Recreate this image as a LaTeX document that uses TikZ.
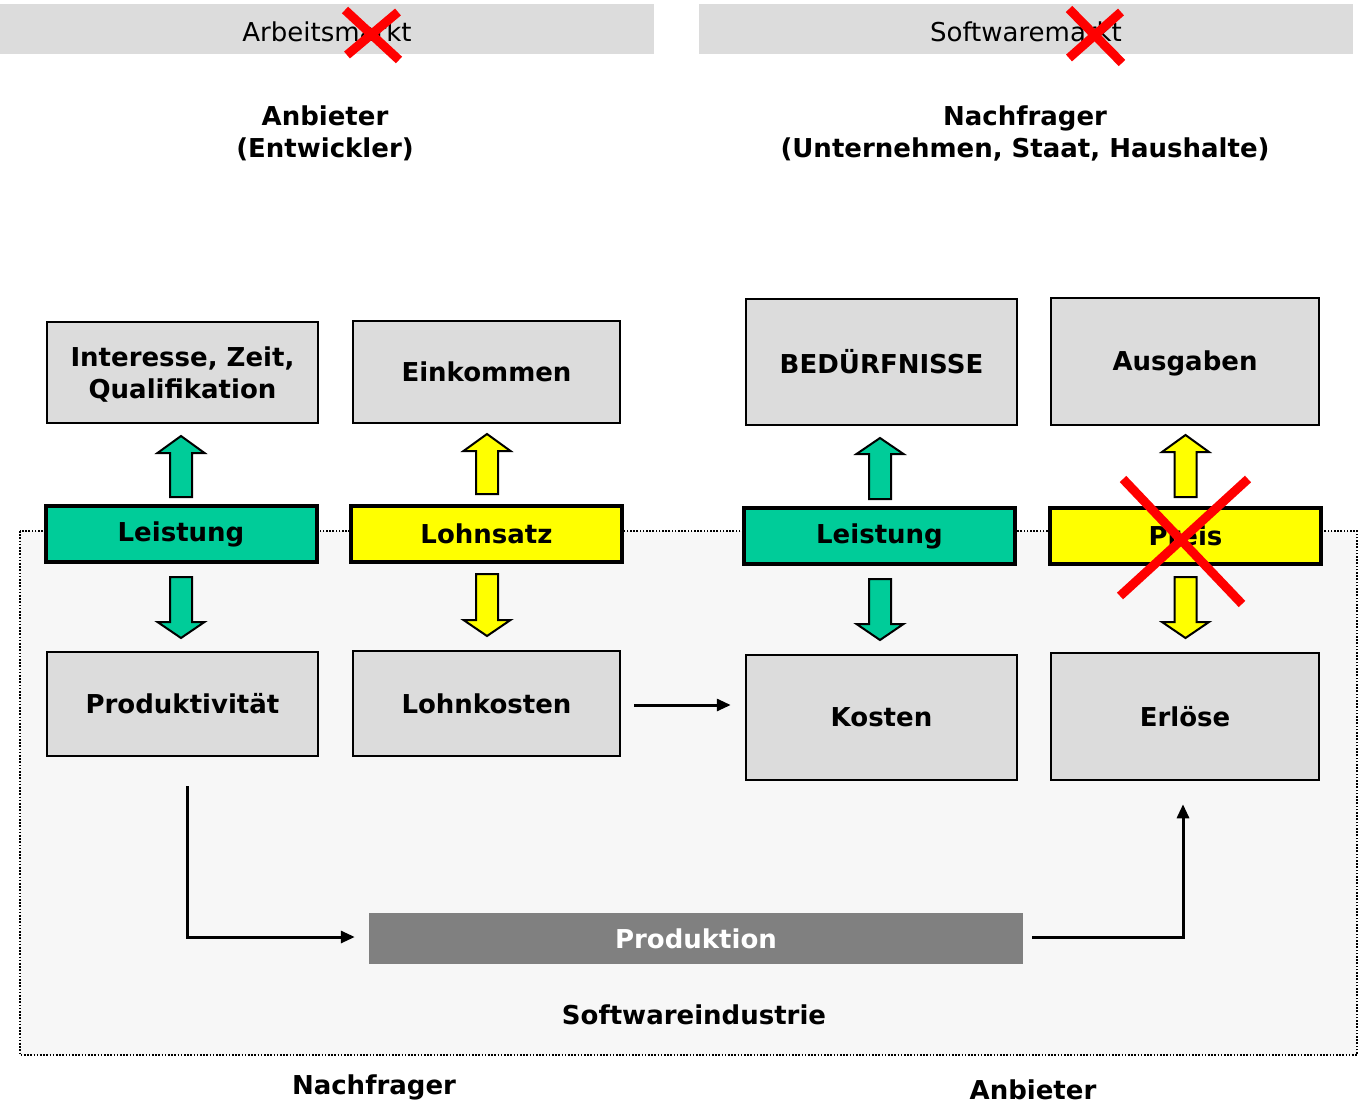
\documentclass[tikz,border=0pt]{standalone}
\usepackage{fontspec}
\setmainfont{DejaVu Sans}
\usetikzlibrary{arrows.meta,calc}
\definecolor{boxgray}{HTML}{DCDCDC}
\definecolor{bggray}{HTML}{F7F7F7}
\definecolor{grn}{HTML}{00CC99}
\definecolor{ylw}{HTML}{FFFF00}
\definecolor{prodgray}{HTML}{808080}
\newcommand\blockarrow[5]{%
  \draw[fill=#5, line width=2pt, line join=miter]
    ({#1-11},#4) -- ({#1-11},#3) -- ({#1-23.5},#3) -- (#1,#2) -- ({#1+23.5},#3)
    -- ({#1+11},#3) -- ({#1+11},#4) -- cycle;}
\begin{document}
\begin{tikzpicture}[x=1pt,y=-1pt,
  every node/.style={font=\fontsize{26}{32}\selectfont\bfseries, align=center, inner sep=0pt},
  box/.style={draw, fill=boxgray, line width=2.5pt},
  bar/.style={draw, line width=4pt, minimum width=271pt, minimum height=56pt},
  mkt/.style={fill=boxgray, minimum width=654pt, minimum height=50pt},
  mkttext/.style={font=\fontsize{26}{32}\selectfont\mdseries, yshift=-2.5pt},
  boxtext/.style={yshift=-2pt},
  conn/.style={line width=3pt, -{Triangle[length=14pt,width=12pt]}},
  cross/.style={red, line width=9pt}
]
\useasboundingbox (0,0) rectangle (1358,1105);
% top market bars
\node[mkt, label={[mkttext]center:Arbeitsmarkt}] (am) at (327,29) {};
\node[mkt, label={[mkttext]center:Softwaremarkt}] (sm) at (1026,29) {};
\draw[cross] (345,10) -- (399,60);
\draw[cross] (398,12) -- (347,55);
\draw[cross] (1069,9) -- (1122,63);
\draw[cross] (1121,12) -- (1069,58);
% headings
\node (anb) at (325,133) {Anbieter\\(Entwickler)};
\node (nach) at (1025,133) {Nachfrager\\(Unternehmen, Staat, Haushalte)};
% background industry region
\draw[fill=bggray, line width=1.6pt, dash pattern=on 1.6pt off 1.6pt] (20,531) rectangle (1357,1055);
% top boxes
\node[box, minimum width=271pt, minimum height=101pt, label={[boxtext]center:{Interesse, Zeit,\\Qualifikation}}] (int) at (182.5,372.5) {};
\node[box, minimum width=267pt, minimum height=102pt] (ein) at (486.5,372) {Einkommen};
\node[box, minimum width=271pt, minimum height=126pt] (bed) at (881.5,362) {BEDÜRFNISSE};
\node[box, minimum width=268pt, minimum height=127pt, label={[boxtext]center:Ausgaben}] (aus) at (1185,361.5) {};
% bars
\node[bar, fill=grn] (lei1) at (181,534) {Leistung};
\node[bar, fill=ylw] (lohn) at (486.5,534) {Lohnsatz};
\node[bar, fill=grn] (lei2) at (879.5,536) {Leistung};
\node[bar, fill=ylw] (preis) at (1185.5,536) {Preis};
% bottom boxes
\node[box, minimum width=271pt, minimum height=104pt] (prod) at (182.5,704) {Produktivität};
\node[box, minimum width=267pt, minimum height=105pt] (lk) at (486.5,703.5) {Lohnkosten};
\node[box, minimum width=271pt, minimum height=125pt] (kos) at (881.5,717.5) {Kosten};
\node[box, minimum width=268pt, minimum height=127pt] (erl) at (1185,716.5) {Erlöse};
% block arrows
\blockarrow{181}{436}{453}{497}{grn}
\blockarrow{181}{638}{622}{577}{grn}
\blockarrow{487}{434}{451}{494}{ylw}
\blockarrow{487}{636}{620}{574}{ylw}
\blockarrow{880}{438}{454}{499}{grn}
\blockarrow{880}{640}{624}{579}{grn}
\blockarrow{1185.5}{435}{452}{497}{ylw}
\blockarrow{1185.5}{638}{622}{577}{ylw}
% cross over Preis
\draw[cross] (1123,479) -- (1242,604);
\draw[cross] (1248,479) -- (1120,596);
% production
\node[fill=prodgray, text=white, minimum width=654pt, minimum height=51pt] (pr) at (696,938.5) {Produktion};
\node (si) at (694,1015) {Softwareindustrie};
\node (nf) at (374,1087) {Nachfrager};
\node (an) at (1033,1090) {Anbieter};
% connectors
\coordinate (c0) at ($(lk.east)+(13,1.5)$);
\draw[conn] (c0) -- (c0 -| {$(kos.west)+(-14,0)$});
\coordinate (c1) at ($(prod.south)+(4.5,29)$);
\coordinate (c2) at ($(pr.east)+(9,-1.5)$);
\draw[conn] (c1) |- ($(pr.west)+(-14,-1.5)$);
\draw[conn] (c2) -| ($(erl.south)+(-2,23)$);
\end{tikzpicture}
\end{document}
